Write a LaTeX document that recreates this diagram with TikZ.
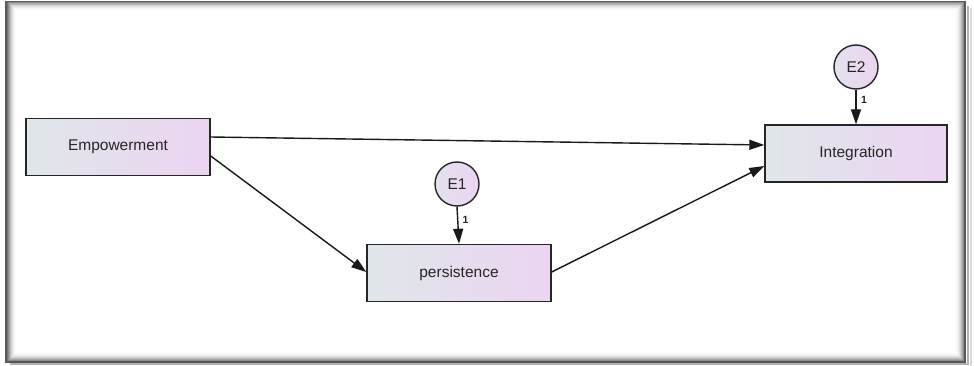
\documentclass[tikz,border=0pt]{standalone}
\usepackage{fontspec}
\setmainfont{Liberation Sans}
\usetikzlibrary{arrows.meta}
\definecolor{gL}{HTML}{E0E7EA}
\definecolor{gR}{HTML}{ECD4F2}
\begin{document}
\begin{tikzpicture}[x=1pt,y=-1pt,
  var/.style={draw=black!85,line width=1.4pt,left color=gL,right color=gR,minimum width=#1,minimum height=57pt,inner sep=0pt,font=\fontsize{15.5}{17}\selectfont,text=black!85},
  err/.style={draw=black!85,line width=1.4pt,circle,left color=gL!70!gR,right color=gR,minimum size=44pt,inner sep=0pt,font=\fontsize{15.5}{17}\selectfont,text=black!85},
  path/.style={draw=black!90,line width=1.4pt,-{Triangle[length=15pt,width=10pt]}},
  wt/.style={font=\bfseries\fontsize{10.5}{11}\selectfont,text=black!85}]
\useasboundingbox (0,0) rectangle (974,366);
\fill[white] (0,0) rectangle (974,366);
% frame with shadow
\foreach \i/\c in {0/55,1/45,2/35,3/26,4/18,5/12,6/7,7/4,8/2}{
  \draw[black!\c,line width=1pt] (7+\i,2+\i) rectangle (964-\i,361-\i);
}
\draw[black!65,line width=1.6pt] (6,1.5) rectangle (965,362);
\draw[black!30,line width=2pt] (968,6) -- (968,364) -- (10,364);
\draw[black!15,line width=2pt] (971,8) -- (971,366);
% nodes
\node[var=184pt] (emp) at (118,147) {Empowerment};
\node[var=184pt] (per) at (459,273) {persistence};
\node[var=182pt] (int) at (856,153.5) {Integration};
\node[err] (e1) at (457,184) {E1};
\node[err] (e2) at (856,67) {E2};
% paths
\draw[path] (emp.east |- 0,137) -- (int.west |- 0,145);
\draw[path] (emp.east |- 0,156) -- (per.west |- 0,272);
\draw[path] (per.east |- 0,272) -- (int.west |- 0,166);
\draw[path] (e1.south) -- (per.north -| 459,0) node[wt,right=1pt,pos=0.35] {1};
\draw[path] (e2.south) -- (int.north) node[wt,right=1pt,pos=0.3] {1};
\end{tikzpicture}
\end{document}
